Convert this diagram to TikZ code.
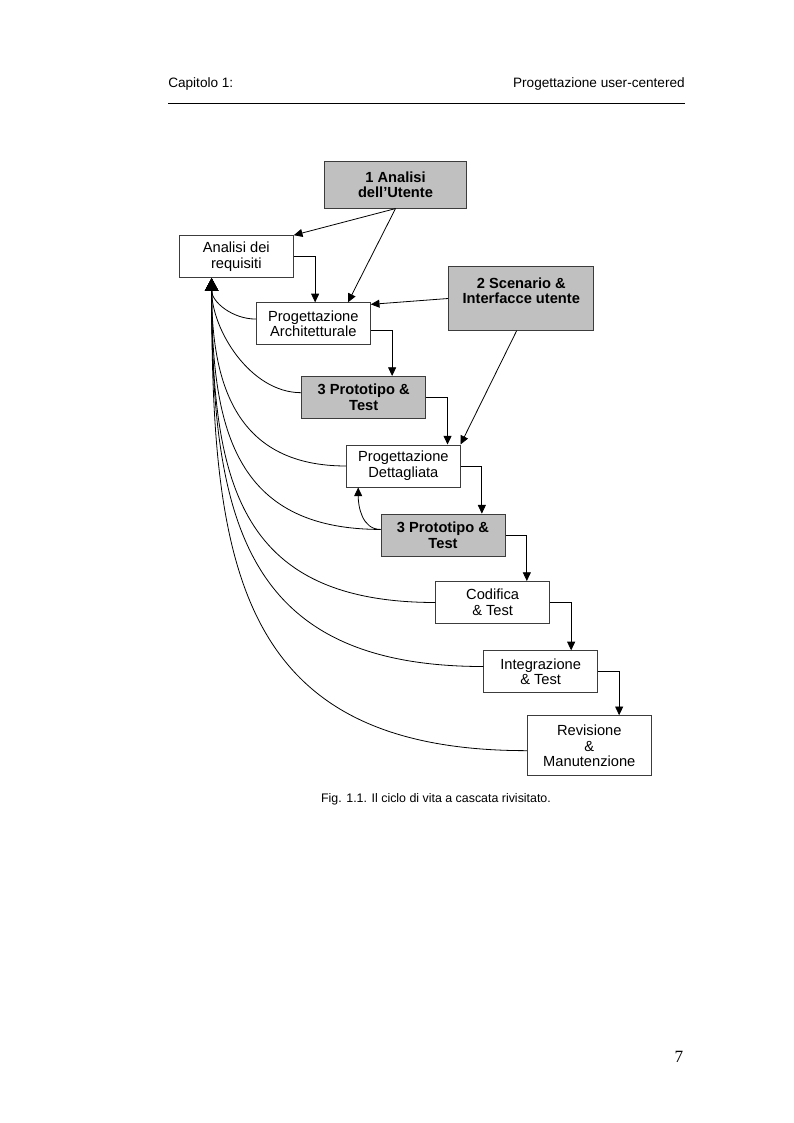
\documentclass[tikz,border=0pt]{standalone}
\usepackage{fontspec}
\setmainfont{Liberation Sans}
\newfontfamily\pagenumfont{Liberation Serif}
\usetikzlibrary{arrows.meta}
\definecolor{boxgray}{RGB}{192,192,192}
\definecolor{boxline}{RGB}{60,60,60}
\tikzset{
  fase/.style={draw=boxline, line width=0.75pt, fill=white, minimum width=85.5pt,
    minimum height=31.5pt, inner sep=0pt, align=center,
    font=\fontsize{11}{11.75}\selectfont},
  proto/.style={fase, fill=boxgray, minimum width=93pt,
    font=\fontsize{11}{11.75}\selectfont\bfseries},
  freccia/.style={-{Triangle[length=6.5pt,width=6pt]}, line width=0.6pt},
  ritorno/.style={-{Triangle[length=9.5pt,width=10pt]}, line width=0.6pt},
  testo/.style={inner sep=0pt},
}
\begin{document}
\begin{tikzpicture}[x=0.75pt,y=-0.75pt]
    \useasboundingbox (0,0) rectangle (793,1123);

    % Intestazione
    \node[testo, anchor=base west, font=\fontsize{10.2}{12}\selectfont] (capitolo) at (168,88) {Capitolo 1:};
    \node[testo, anchor=base east, font=\fontsize{10.2}{12}\selectfont] (titolo) at (685,88) {Progettazione user-centered};
    \draw[line width=0.75pt] (168,104) -- (685,104);

    % Fasi
    \node[proto, minimum width=107pt, minimum height=35pt] (utente) at (395.5,184.75) {1 Analisi\\dell'Utente};
    \node[fase] (req) at (236.3,256.7) {Analisi dei\\requisiti};
    \node[proto, minimum width=109pt, minimum height=47.7pt] (scen) at (521.3,298.5) {2 Scenario \&\\Interfacce utente\\\mbox{}};
    \node[fase] (arch) at (313.3,323.85) {Progettazione\\Architetturale};
    \node[proto] (proto1) at (363.7,397.5) {3 Prototipo \&\\Test};
    \node[fase, minimum width=85pt] (dett) at (403.35,466) {Progettazione\\Dettagliata};
    \node[proto] (proto2) at (443,535.15) {3 Prototipo \&\\Test};
    \node[fase, minimum width=85pt] (cod) at (492.65,602.5) {Codifica\\\& Test};
    \node[fase, minimum width=85pt] (integ) at (540.65,671.85) {Integrazione\\\& Test};
    \node[fase, minimum width=93pt, minimum height=45.2pt] (rev) at (589.3,745.85) {Revisione\\\&\\Manutenzione};

    % Analisi dell'utente e scenari
    \draw[freccia] (utente.south) -- (req.north east);
    \draw[freccia] (utente.south) -- ([xshift=26pt]arch.north);
    \draw[freccia] (scen.west) -- ([yshift=-1.5pt]arch.north east);
    \draw[freccia] ([xshift=-3.5pt]scen.south) -- (dett.north east);

    % Cascata
    \draw[freccia] (req.east) -- ++(16pt,0) coordinate (k1) -- (k1 |- arch.north);
    \draw[freccia] ([yshift=-5pt]arch.east) -- ++(16pt,0) coordinate (k2) -- (k2 |- proto1.north);
    \draw[freccia] (proto1.east) -- ++(16pt,0) coordinate (k3) -- (k3 |- dett.north);
    \draw[freccia] (dett.east) -- ++(16pt,0) coordinate (k4) -- (k4 |- proto2.north);
    \draw[freccia] (proto2.east) -- ++(16pt,0) coordinate (k5) -- (k5 |- cod.north);
    \draw[freccia] (cod.east) -- ++(16pt,0) coordinate (k6) -- (k6 |- integ.north);
    \draw[freccia] (integ.east) -- ++(16pt,0) coordinate (k7) -- (k7 |- rev.north);

    % Prototipo verso progettazione dettagliata
    \draw[freccia] ([yshift=4.3pt]proto2.west) to[out=180,in=-90] ([xshift=9pt]dett.south west);

    % Ritorni ai requisiti
    \coordinate (fb) at ([xshift=-18.5pt]req.south);
    \draw[ritorno] ([yshift=3.6pt]arch.west) to[out=180,in=-90] (fb);
    \draw[ritorno] ([yshift=3.6pt]proto1.west) to[out=180,in=-90,looseness=0.9] (fb);
    \draw[ritorno] (dett.west) to[out=180,in=-90,looseness=1.2] (fb);
    \draw[ritorno] ([yshift=4.3pt]proto2.west) to[out=180,in=-90,looseness=1.25] (fb);
    \draw[ritorno] (cod.west) to[out=180,in=-90,looseness=1.3] (fb);
    \draw[ritorno] ([yshift=4pt]integ.west) to[out=180,in=-90,looseness=1.3] (fb);
    \draw[ritorno] ([yshift=-3.6pt]rev.west) to[out=180,in=-90,looseness=1.3] (fb);

    % Didascalia e numero di pagina
    \node[testo, anchor=base, font=\fontsize{9.3}{11}\selectfont] (didascalia) at (436,802) {Fig. 1.1. Il ciclo di vita a cascata rivisitato.};
    \node[testo, anchor=base, font=\fontsize{12.9}{14}\pagenumfont] (pagina) at (679,1062) {7};

\end{tikzpicture}
\end{document}
